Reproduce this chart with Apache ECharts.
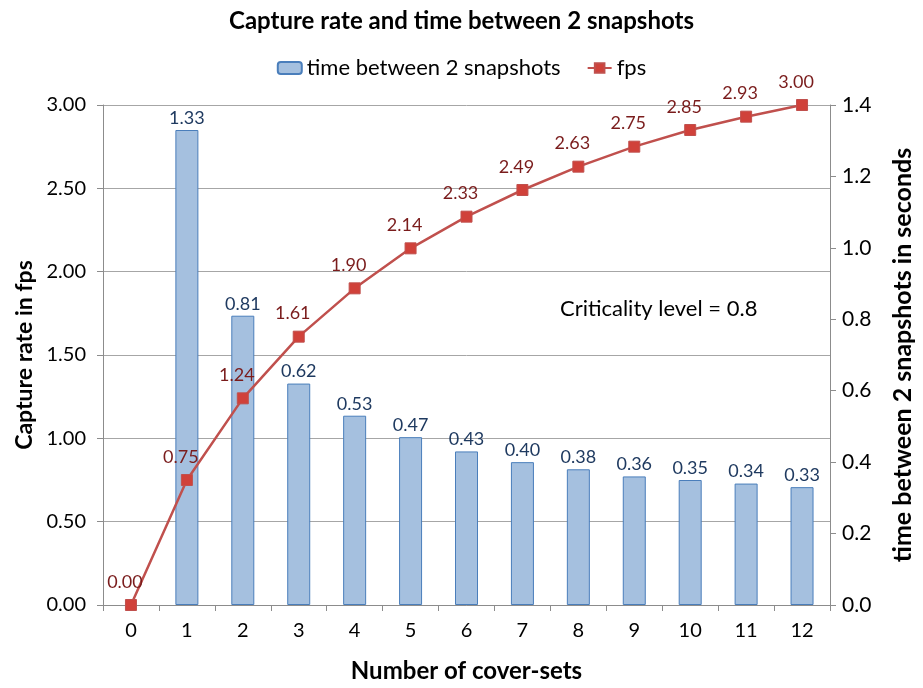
<!DOCTYPE html>
<html><head><meta charset="utf-8">
<script src="https://cdn.jsdelivr.net/npm/echarts@6/dist/echarts.min.js"></script>
<style>html,body{margin:0;padding:0;background:#fff}#c{width:923px;height:688px}</style>
</head><body><div id="c"></div>
<script>
const categories = ['0','1','2','3','4','5','6','7','8','9','10','11','12'];
const timeBetween = ['-', 1.33, 0.81, 0.62, 0.53, 0.47, 0.43, 0.40, 0.38, 0.36, 0.35, 0.34, 0.33];
const fps = [0.00, 0.75, 1.24, 1.61, 1.90, 2.14, 2.33, 2.49, 2.63, 2.75, 2.85, 2.93, 3.00];
const FONT = 'Lato';
const chart = echarts.init(document.getElementById('c'), null, {renderer:'canvas'});
chart.setOption({
  backgroundColor:'#fff',
  animation:false,
  textStyle:{fontFamily:FONT},
  title:{text:'Capture rate and time between 2 snapshots', left:'center', top:4,
    textStyle:{fontFamily:FONT, fontSize:24, fontWeight:'bold', color:'#000'}},
  legend:{top:52, left:'center', itemGap:26, itemWidth:24, itemHeight:12,
    textStyle:{fontFamily:FONT, fontSize:22, color:'#000'},
    data:[{name:'time between 2 snapshots'},{name:'fps'}]},
  graphic:[{type:'text', left:560, top:298, style:{text:'Criticality level = 0.8', fontFamily:FONT, fontSize:22, fill:'#000'}}],
  grid:{left:103, right:90, top:105, bottom:82, containLabel:false},
  xAxis:{type:'category', data:categories, boundaryGap:true,
    name:'Number of cover-sets', nameLocation:'middle', nameGap:54,
    nameTextStyle:{fontFamily:FONT, fontSize:24, fontWeight:'bold', color:'#000'},
    axisLine:{lineStyle:{color:'#8c8c8c'}},
    axisTick:{show:true, alignWithLabel:false, length:6, lineStyle:{color:'#8c8c8c'}},
    axisLabel:{fontFamily:FONT, fontSize:20, color:'#000', margin:16}},
  yAxis:[
    {type:'value', min:0, max:3, interval:0.5, position:'left',
      name:'Capture rate in fps', nameLocation:'middle', nameGap:64, nameRotate:90,
      nameTextStyle:{fontFamily:FONT, fontSize:23, fontWeight:'bold', color:'#000'},
      axisLine:{show:true, lineStyle:{color:'#8c8c8c'}},
      axisTick:{show:true, length:6, lineStyle:{color:'#8c8c8c'}},
      axisLabel:{fontFamily:FONT, fontSize:20, color:'#000', margin:17, formatter:v=>v.toFixed(2)},
      splitLine:{show:true, lineStyle:{color:'#a6a6a6', width:1}}},
    {type:'value', min:0, max:1.4, interval:0.2, position:'right',
      name:'time between 2 snapshots in seconds', nameLocation:'middle', nameGap:60, nameRotate:90,
      nameTextStyle:{fontFamily:FONT, fontSize:25, fontWeight:'bold', color:'#000'},
      axisLine:{show:true, lineStyle:{color:'#8c8c8c'}},
      axisTick:{show:true, length:6, lineStyle:{color:'#8c8c8c'}},
      axisLabel:{fontFamily:FONT, fontSize:21, color:'#000', margin:12, formatter:v=>v.toFixed(1)},
      splitLine:{show:false}}
  ],
  series:[
    {name:'time between 2 snapshots', type:'bar', yAxisIndex:1, data:timeBetween, barWidth:23,
      itemStyle:{color:'#a5c0df', borderColor:'#4a7ebb', borderWidth:1},
      label:{show:true, position:'top', distance:3, fontFamily:FONT, fontSize:18, color:'#1f3a60',
        formatter:p=>Number(p.value).toFixed(2)}},
    {name:'fps', type:'line', yAxisIndex:0, data:fps, smooth:false, symbol:'rect', symbolSize:11,
      lineStyle:{color:'#c0504d', width:2.5},
      itemStyle:{color:'#d0413a', borderColor:'#c0504d', borderWidth:1},
      label:{show:true, position:'top', distance:8, offset:[-6,0], fontFamily:FONT, fontSize:18, color:'#7a1c1c',
        formatter:p=>p.value.toFixed(2)}, z:5}
  ]
});
</script></body></html>
